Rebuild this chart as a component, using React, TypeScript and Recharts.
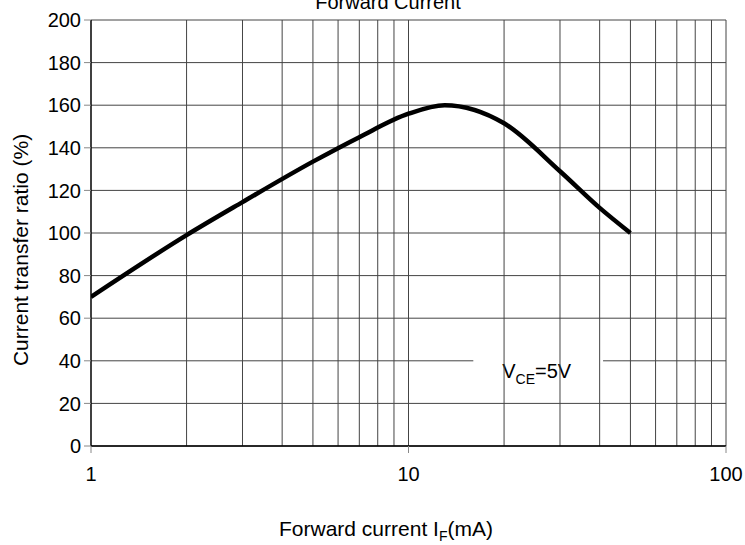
import { LineChart, Line, XAxis, YAxis, CartesianGrid, ReferenceLine, ReferenceArea } from 'recharts'

const forwardCurrent = [1, 2, 3, 5, 7, 10, 13, 20, 30, 40, 50]
const ctr = [70, 99, 114.5, 133.5, 145, 156, 160, 151.5, 129, 111.8, 100]

const xTicks = [1, 10, 100]
const yTicks = [0, 20, 40, 60, 80, 100, 120, 140, 160, 180, 200]
const minorGrid = [2, 3, 4, 5, 6, 7, 8, 9, 10, 20, 30, 40, 50, 60, 70, 80, 90, 100]

const data = forwardCurrent.map((x, i) => ({ x, y: ctr[i] }))

const font = 'Liberation Sans, Arial, sans-serif'

const VceLabel = (props: any) => {
    const { viewBox } = props
    const cx = viewBox.x + viewBox.width / 2
    const cy = viewBox.y + viewBox.height / 2
    return (
        <text x={cx - 36} y={cy + 7} fontFamily={font} fontSize={20} fill="#000">
            V
            <tspan fontSize={14} dy={6}>CE</tspan>
            <tspan dy={-6}>=5V</tspan>
        </text>
    )
}

export default function App() {
    return (
        <div style={{ position: 'absolute', left: 0, top: 0, width: 745, height: 545, background: '#fff' }}>
            <LineChart width={745} height={545} data={data} margin={{ top: 20, right: 19, left: 0, bottom: 0 }}>
                <CartesianGrid vertical={false} stroke="#444" />
                {minorGrid.map((v) => (
                    <ReferenceLine key={v} x={v} stroke="#444" strokeWidth={1} />
                ))}
                <XAxis
                    dataKey="x"
                    type="number"
                    scale="log"
                    domain={[1, 100]}
                    ticks={xTicks}
                    height={99}
                    axisLine={{ stroke: '#000', strokeWidth: 1.5 }}
                    tickLine={{ stroke: '#888' }}
                    tickSize={7}
                    tick={{ fill: '#000', fontSize: 20, fontFamily: font }}
                    tickMargin={14}
                    allowDataOverflow
                />
                <YAxis
                    type="number"
                    domain={[0, 200]}
                    ticks={yTicks}
                    width={91}
                    axisLine={{ stroke: '#000', strokeWidth: 1.5 }}
                    tickLine={{ stroke: '#888' }}
                    tickSize={7}
                    tick={{ fill: '#000', fontSize: 20, fontFamily: font }}
                    tickMargin={3}
                />
                <ReferenceArea x1={16} x2={41} y1={27} y2={43} fill="#fff" fillOpacity={1} stroke="none" label={<VceLabel />} />
                <Line
                    type="monotone"
                    dataKey="y"
                    stroke="#000"
                    strokeWidth={4.5}
                    dot={false}
                    isAnimationActive={false}
                />
                <text x={388} y={9} textAnchor="middle" fontFamily={font} fontSize={20} fill="#000">
                    Forward Current
                </text>
                <text x={386} y={536} textAnchor="middle" fontFamily={font} fontSize={21} fill="#000">
                    Forward current I<tspan fontSize={14} dy={5}>F</tspan><tspan dy={-5}>(mA)</tspan>
                </text>
                <text
                    x={20}
                    y={250}
                    textAnchor="middle"
                    fontFamily={font}
                    fontSize={21}
                    fill="#000"
                    transform="rotate(-90 20 250)"
                    dominantBaseline="central"
                >
                    Current transfer ratio (%)
                </text>
            </LineChart>
        </div>
    )
}
